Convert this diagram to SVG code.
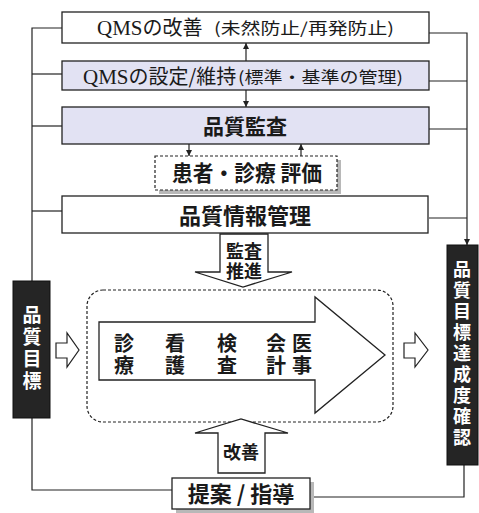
<svg xmlns="http://www.w3.org/2000/svg" width="479" height="513" viewBox="0 0 479 513">
<defs>
<style>
.box{fill:#fff;stroke:#222;stroke-width:1.3}
.lav{fill:#e2e2f3;stroke:#222;stroke-width:1.3}
.blk{fill:#252525;stroke:#111;stroke-width:1}
.ln{fill:none;stroke:#222;stroke-width:1.2}
.jp{font-family:"Noto Sans CJK JP","Noto Sans",sans-serif;fill:#1a1a1a}
.sr{font-family:"Liberation Serif","Noto Sans CJK JP",serif;fill:#1a1a1a}
.wt{font-family:"Noto Sans CJK JP",sans-serif;fill:#fff;font-weight:bold}
.shadow{fill:#b8b8b8}
</style>
<marker id="ah" viewBox="0 0 10 10" refX="10" refY="5" markerWidth="6" markerHeight="6" orient="auto-start-reverse" markerUnits="userSpaceOnUse">
<path d="M0,0 L10,5 L0,10 z" fill="#222"/>
</marker>
</defs>

<g id="connectors">
<polyline class="ln" points="62,28 32,28 32,281"/>
<line class="ln" x1="32" y1="74" x2="62" y2="74"/>
<line class="ln" x1="32" y1="126" x2="62" y2="126"/>
<line class="ln" x1="32" y1="211" x2="62" y2="211"/>
<polyline class="ln" points="429,33 467,33 467,245" marker-end="url(#ah)"/>
<line class="ln" x1="429" y1="81" x2="467" y2="81"/>
<line class="ln" x1="429" y1="129" x2="467" y2="129"/>
<line class="ln" x1="429" y1="218" x2="467" y2="218"/>
<polyline class="ln" points="32,418 32,490 172,490"/>
<polyline class="ln" points="310,497 464,497 464,465"/>
<line class="ln" x1="246" y1="61" x2="246" y2="43" marker-end="url(#ah)"/>
<line class="ln" x1="246" y1="90" x2="246" y2="107" marker-end="url(#ah)"/>
<line class="ln" x1="189" y1="144" x2="189" y2="156" marker-end="url(#ah)"/>
<line class="ln" x1="301" y1="156" x2="301" y2="144" marker-end="url(#ah)"/>
</g>

<g id="qms-improve">
<rect class="box" x="62" y="12" width="367" height="31"/>
<text class="sr" x="97" y="35" font-size="21">QMS<tspan class="jp" font-size="20">の改善</tspan></text>
<text class="jp" x="214" y="34" font-size="16" textLength="180" lengthAdjust="spacingAndGlyphs">(未然防止/再発防止)</text>
</g>

<g id="qms-setup">
<rect class="lav" x="62" y="61" width="367" height="29"/>
<text class="sr" x="83" y="84" font-size="21">QMS<tspan class="jp" font-size="20">の設定/維持</tspan></text>
<text class="jp" x="238" y="83" font-size="16" textLength="165" lengthAdjust="spacingAndGlyphs">(標準・基準の管理)</text>
</g>

<g id="quality-audit">
<rect class="lav" x="62" y="107" width="367" height="37"/>
<text class="jp" x="245" y="134" font-size="21" font-weight="bold" text-anchor="middle">品質監査</text>
</g>

<g id="patient-eval">
<rect class="shadow" x="159" y="160" width="182" height="34"/>
<rect x="155" y="156" width="182" height="34" fill="#fff" stroke="#222" stroke-width="1.2" stroke-dasharray="3,2"/>
<text class="jp" x="172" y="181" font-size="22" font-weight="bold" textLength="150" lengthAdjust="spacingAndGlyphs">患者・診療 評価</text>
</g>

<g id="quality-info">
<rect class="box" x="62" y="196" width="366" height="37"/>
<text class="jp" x="245" y="224" font-size="22" font-weight="bold" text-anchor="middle">品質情報管理</text>
</g>

<g id="audit-promote">
<polygon points="220,234 268,234 268,272 292,272 243,287 195,272 220,272" fill="#fff" stroke="#222" stroke-width="1.3"/>
<text class="jp" x="244" y="258" font-size="18" font-weight="bold" text-anchor="middle">監査</text>
<text class="jp" x="244" y="278" font-size="18" font-weight="bold" text-anchor="middle">推進</text>
</g>

<g id="process">
<rect x="87" y="290" width="306" height="132" rx="16" ry="16" fill="none" stroke="#222" stroke-width="1.2" stroke-dasharray="3,2"/>
<polygon points="99,322 315,322 315,297 385,355 315,413 315,380 99,380" fill="#fff" stroke="#222" stroke-width="1.3"/>
<g class="jp" font-size="20" font-weight="bold" text-anchor="middle">
<text x="124" y="351">診</text><text x="124" y="373">療</text>
<text x="175" y="351">看</text><text x="175" y="373">護</text>
<text x="227" y="351">検</text><text x="227" y="373">査</text>
<text x="276" y="351">会</text><text x="276" y="373">計</text>
<text x="302" y="351">医</text><text x="302" y="373">事</text>
</g>
</g>

<g id="quality-goal">
<rect class="blk" x="13" y="281" width="37" height="137"/>
<g class="wt" font-size="19" text-anchor="middle">
<text x="32" y="322">品</text><text x="32" y="344">質</text><text x="32" y="366">目</text><text x="32" y="388">標</text>
</g>
</g>

<g id="goal-check">
<rect class="blk" x="447" y="245" width="31" height="220"/>
<g class="wt" font-size="18" text-anchor="middle">
<text x="462" y="276">品</text><text x="462" y="297">質</text><text x="462" y="318">目</text><text x="462" y="339">標</text><text x="462" y="360">達</text><text x="462" y="381">成</text><text x="462" y="402">度</text><text x="462" y="423">確</text><text x="462" y="444">認</text>
</g>
</g>

<g id="in-arrow">
<polygon points="56,343 67,343 67,333 79,350 67,367 67,358 56,358" fill="#fff" stroke="#222" stroke-width="1.2"/>
</g>
<g id="out-arrow">
<polygon points="404,343 415,343 415,333 428,350 415,367 415,358 404,358" fill="#fff" stroke="#222" stroke-width="1.2"/>
</g>

<g id="improve">
<polygon points="218,473 265,473 265,433 288,433 241,419 195,433 218,433" fill="#fff" stroke="#222" stroke-width="1.3"/>
<text class="jp" x="241" y="459" font-size="18" font-weight="bold" text-anchor="middle">改善</text>
</g>

<g id="proposal">
<rect class="shadow" x="176" y="482" width="138" height="31"/>
<rect class="box" x="172" y="478" width="138" height="31"/>
<text class="jp" x="241" y="502" font-size="22" font-weight="bold" text-anchor="middle">提案 / 指導</text>
</g>
</svg>
